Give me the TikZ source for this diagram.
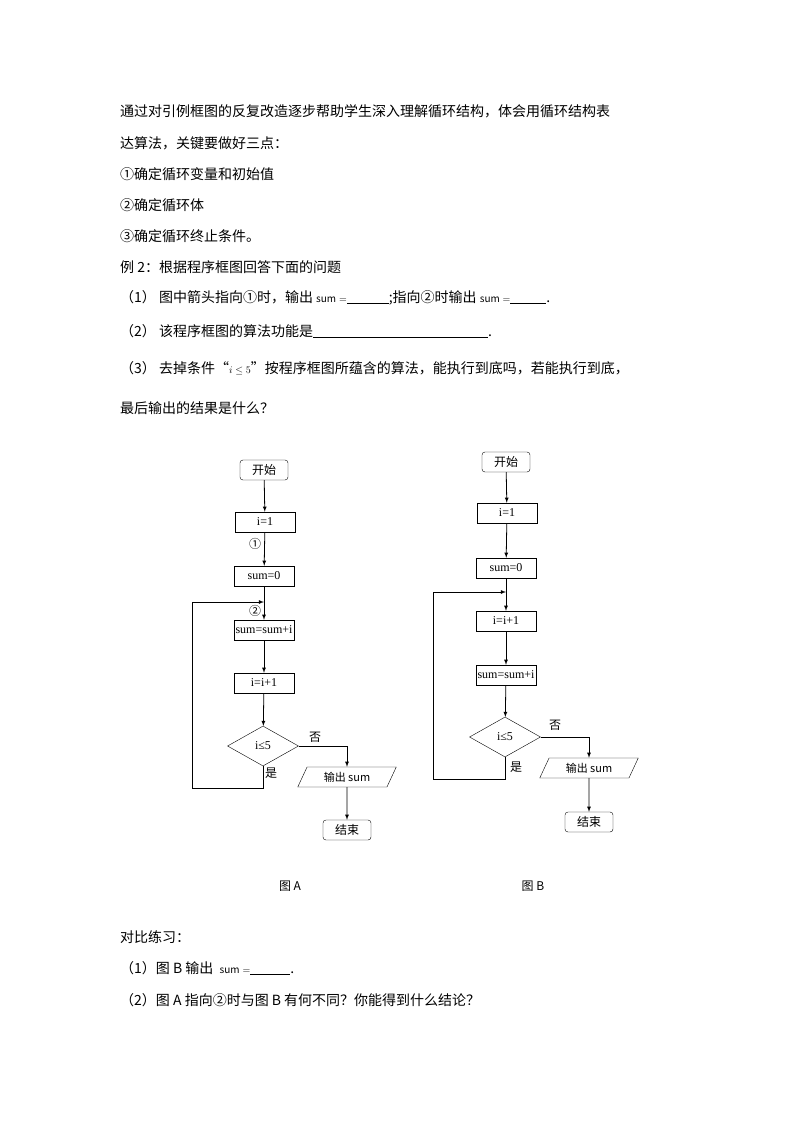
\documentclass[tikz,border=0pt]{standalone}
\usepackage{fontspec}
\setmainfont{Noto Sans CJK SC}
\newfontfamily\latinf{Liberation Serif}
\usepackage{tikz}
\usetikzlibrary{arrows,positioning,calc,shapes}

\begin{document}
\begin{tikzpicture}[x=1pt,y=-1pt,
    txt/.style={anchor=west,inner sep=0pt,font=\fontsize{14}{16}\selectfont},
    term/.style={draw,rounded corners=3pt,minimum width=48pt,minimum height=20pt,inner sep=0pt,font=\fontsize{12}{14}\selectfont},
    proc/.style={draw,minimum width=60pt,minimum height=20pt,inner sep=0pt,font=\latinf\fontsize{12}{14}\selectfont},
    cond/.style={draw,diamond,aspect=1.8,minimum width=71pt,minimum height=40pt,inner sep=0pt,font=\latinf\fontsize{12}{14}\selectfont},
    io/.style={draw,trapezium,trapezium left angle=65,trapezium right angle=115,minimum width=60pt,minimum height=20pt,inner sep=1pt,font=\fontsize{11}{13}\selectfont},
    lbl/.style={font=\fontsize{12}{14}\selectfont,inner sep=0pt},
    arr/.style={-latex,thick}]
\useasboundingbox (0,0) rectangle (794,1123);

% Text above the charts
\node[txt] at (120,111) {通过对引例框图的反复改造逐步帮助学生深入理解循环结构，体会用循环结构表};
\node[txt] at (120,143) {达算法，关键要做好三点：};
\node[txt] at (120,174) {①确定循环变量和初始值};
\node[txt] at (120,205) {②确定循环体};
\node[txt] at (120,236) {③确定循环终止条件。};
\node[txt] at (120,267) {例 2：根据程序框图回答下面的问题};
\node[txt] at (120,298) {（1）\ 图中箭头指向①时，输出 {\fontsize{10}{12}\selectfont$\mathit{sum}=$}\rule[-1pt]{42pt}{0.5pt};指向②时输出 {\fontsize{10}{12}\selectfont$\mathit{sum}=$}\rule[-1pt]{36pt}{0.5pt}.};
\node[txt] at (120,331) {（2）\ 该程序框图的算法功能是\rule[-1pt]{175pt}{0.5pt}.};
\node[txt] at (120,368) {（3）\ 去掉条件“{\fontsize{10}{12}\selectfont$i\leq5$}”按程序框图所蕴含的算法，能执行到底吗，若能执行到底，};
\node[txt] at (120,408) {最后输出的结果是什么？};

% Chart A
\node[term] (a0) at (264,470) {开始};
\node[proc] (a1) at (265,522) {i=1};
\node[proc] (a2) at (264,576) {sum=0};
\node[proc] (a3) at (264,630) {sum=sum+i};
\node[proc] (a4) at (264,683) {i=i+1};
\node[cond] (a5) at (263,746) {i≤5};
\node[io] (a6) at (347,777) {输出 sum};
\node[term] (a7) at (347,830) {结束};
\coordinate (aj) at (264,602);
\draw[arr] (a0) -- (a1);
\draw[arr] (a1) -- (a2);
\draw[arr] (a2) -- (a3);
\draw[arr] (a3) -- (a4);
\draw[arr] (a4) -- (a5);
\draw[arr] (a5.east) -| (a6.north);
\draw[arr] (a6) -- (a7);
\draw[arr] (a5.south) -- (263,788) -- (192,788) -- (192,602) -- (aj);
\node[lbl] at (255,544) {①};
\node[lbl] at (255,611) {②};
\node[lbl] at (271,773) {是};
\node[lbl] at (315,737) {否};

% Chart B
\node[term] (b0) at (506,462) {开始};
\node[proc] (b1) at (507,513) {i=1};
\node[proc] (b2) at (506,568) {sum=0};
\node[proc] (b3) at (506,621) {i=i+1};
\node[proc] (b4) at (506,675) {sum=sum+i};
\node[cond] (b5) at (505,737) {i≤5};
\node[io] (b6) at (589,768) {输出 sum};
\node[term] (b7) at (589,822) {结束};
\coordinate (bj) at (506,592);
\draw[arr] (b0) -- (b1);
\draw[arr] (b1) -- (b2);
\draw[arr] (b2) -- (b3);
\draw[arr] (b3) -- (b4);
\draw[arr] (b4) -- (b5);
\draw[arr] (b5.east) -| (b6.north);
\draw[arr] (b6) -- (b7);
\draw[arr] (b5.south) -- (505,779) -- (433,779) -- (433,592) -- (bj);
\node[lbl] at (516,767) {是};
\node[lbl] at (555,725) {否};

% Captions
\node[lbl] at (290,886) {图 A};
\node[lbl] at (533,886) {图 B};

% Text below
\node[txt] at (120,937) {对比练习：};
\node[txt] at (120,968) {（1）图 B 输出\ \ {\fontsize{10}{12}\selectfont$\mathit{sum}=$}\rule[-1pt]{40pt}{0.5pt}.};
\node[txt] at (120,1000) {（2）图 A 指向②时与图 B 有何不同？你能得到什么结论？};
\end{tikzpicture}
\end{document}
